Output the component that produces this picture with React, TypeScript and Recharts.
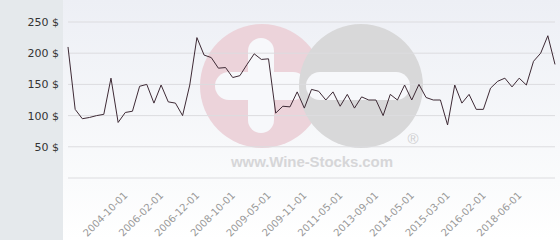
import React from 'react';
import { CartesianGrid, Line, LineChart, XAxis, YAxis } from 'recharts';

// price per bottle, in date order
const prices = [
  210, 110, 95, 97, 100, 102, 160, 89, 105, 107,
  147, 150, 120, 149, 122, 120, 100, 149, 225, 197,
  193, 176, 177, 161, 164, 182, 199, 190, 191, 104,
  115, 114, 138, 112, 142, 139, 125, 138, 115, 134,
  112, 130, 125, 125, 100, 134, 125, 149, 125, 150,
  129, 125, 125, 85, 149, 120, 134, 110, 110, 144,
  155, 160, 146, 160, 149, 187, 200, 228, 182,
];

const tickLabels = [
  '2004-10-01', '2006-02-01', '2006-12-01', '2008-10-01',
  '2009-05-01', '2009-11-01', '2011-05-01', '2013-09-01',
  '2014-05-01', '2015-03-01', '2016-02-01', '2018-06-01',
];
const firstLabelled = 8;
const labelEvery = 5;

const yTicks = [0, 50, 100, 150, 200, 250];

const data = prices.map((price, index) => ({ index, price }));
const xTicks = tickLabels.map((_, k) => firstLabelled + k * labelEvery);

const font = '"DejaVu Sans", sans-serif';

// wine-stocks logo behind the plot
const Watermark = () => (
  <svg width={560} height={240} style={{ position: 'absolute', left: 0, top: 0 }}>
    <circle cx={262} cy={86} r={62} fill="#ecd3da" />
    <rect x={248} y={38} width={26} height={95} rx={13} fill="#f7f8fb" />
    <rect x={215} y={72} width={92} height={28} rx={14} fill="#f7f8fb" />
    <circle cx={361} cy={86} r={62} fill="#d8d8d9" />
    <rect x={306} y={72} width={104} height={28} rx={14} fill="#f7f8fb" />
    <text
      x={231}
      y={167}
      textLength={162}
      fontSize={15}
      fontWeight="bold"
      fontFamily='"Liberation Sans", Arial, sans-serif'
      fill="#d6d6d8"
    >
      www.Wine-Stocks.com
    </text>
    <text
      x={413}
      y={144}
      textAnchor="middle"
      fontSize={15}
      fontFamily='"Liberation Sans", Arial, sans-serif'
      fill="#cfcfd1"
    >
      ®
    </text>
  </svg>
);

const App: React.FC = () => {
  return (
    <div style={{ position: 'absolute', left: 0, top: 0, width: 560, height: 240, overflow: 'hidden' }}>
      <div style={{ position: 'absolute', left: 0, top: 0, width: 63, height: 240, background: '#e5e9ec' }} />
      <div
        style={{
          position: 'absolute',
          left: 63,
          top: 0,
          width: 497,
          height: 240,
          background: 'linear-gradient(to bottom, #edeff5 0%, #fafbfc 75%, #ffffff 100%)',
        }}
      />
      <Watermark />
      <div style={{ position: 'absolute', left: 0, top: 0 }}>
        <LineChart width={560} height={240} data={data} margin={{ top: 22, right: 5, bottom: 0, left: 0 }}>
          <CartesianGrid vertical={false} stroke="#dcdcdf" />
          <XAxis
            dataKey="index"
            type="number"
            domain={[0, prices.length - 1]}
            ticks={xTicks}
            tickFormatter={(v) => tickLabels[(v - firstLabelled) / labelEvery]}
            interval={0}
            axisLine={false}
            tickLine={false}
            tickSize={5}
            tickMargin={8}
            angle={-45}
            textAnchor="end"
            height={62}
            tick={{ fill: '#999999', fontSize: 10, fontFamily: font, dx: -2 }}
          />
          <YAxis
            domain={[0, 250]}
            ticks={yTicks}
            tickFormatter={(v) => (v === 0 ? '' : `${v} $`)}
            axisLine={false}
            tickLine={false}
            tickSize={6}
            tickMargin={3}
            width={68}
            tick={{ fill: '#333333', fontSize: 11, fontFamily: font }}
          />
          <Line
            type="linear"
            dataKey="price"
            stroke="#3e2a35"
            strokeWidth={1}
            dot={false}
            isAnimationActive={false}
          />
        </LineChart>
      </div>
    </div>
  );
};

export default App;
